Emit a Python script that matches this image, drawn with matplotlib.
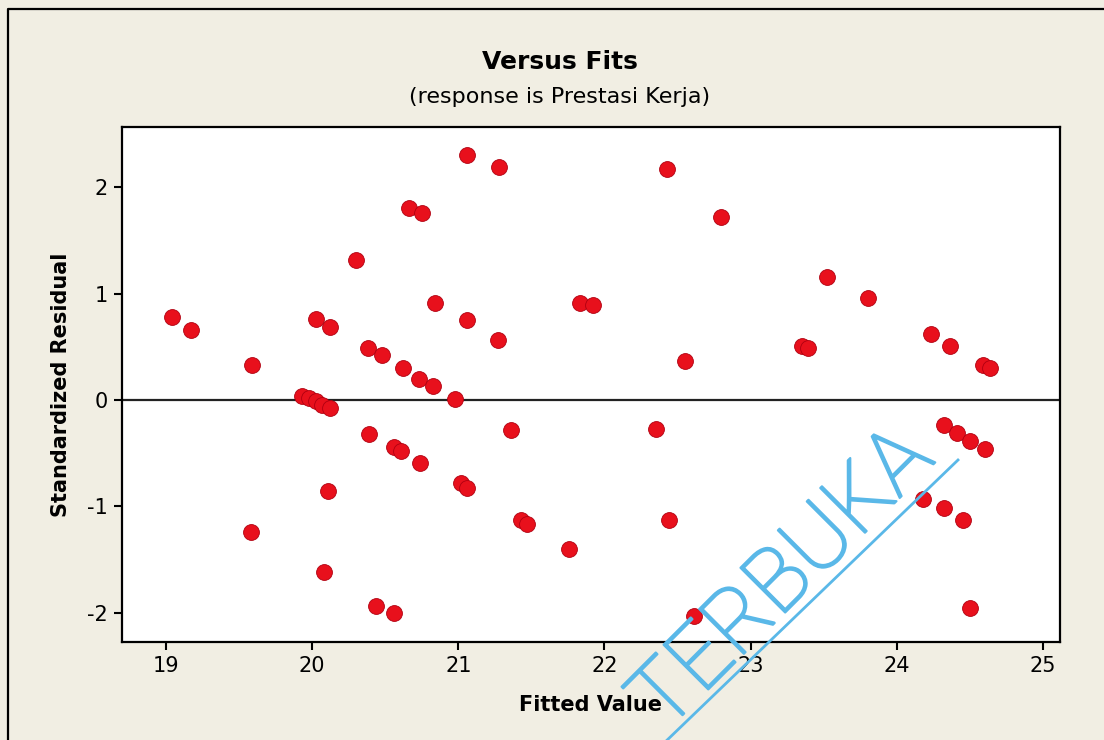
import numpy as np
import matplotlib
matplotlib.use("Agg")
import matplotlib.pyplot as plt
import matplotlib.patheffects as pe
from matplotlib.lines import Line2D

plt.rcParams['axes.unicode_minus'] = False

# fitted values and standardized residuals
fitted = [19.04, 19.17, 19.59, 19.93, 19.98, 20.03, 20.07, 20.12,
          20.03, 20.12, 20.30, 20.38, 20.48, 20.62, 20.73, 20.83, 20.98,
          20.66, 20.75, 20.84, 21.06, 21.06, 21.28, 21.27,
          20.39, 20.56, 20.61, 20.74, 20.11, 19.58, 20.08, 20.44, 20.56,
          21.02, 21.06, 21.36, 21.43, 21.47,
          22.43, 22.80, 21.83, 21.92, 22.55, 23.52, 23.80, 23.35, 23.39,
          24.23, 24.36, 24.59, 24.64,
          22.35, 22.44, 21.76, 22.61, 24.32, 24.41, 24.50, 24.60,
          24.18, 24.32, 24.45, 24.50]
resid = [0.78, 0.66, 0.33, 0.04, 0.02, -0.01, -0.05, -0.08,
         0.76, 0.69, 1.32, 0.49, 0.42, 0.30, 0.20, 0.13, 0.01,
         1.81, 1.76, 0.91, 2.30, 0.75, 2.19, 0.56,
         -0.32, -0.44, -0.48, -0.59, -0.86, -1.24, -1.62, -1.94, -2.00,
         -0.78, -0.83, -0.28, -1.13, -1.17,
         2.17, 1.72, 0.91, 0.89, 0.37, 1.16, 0.96, 0.51, 0.49,
         0.62, 0.51, 0.33, 0.30,
         -0.27, -1.13, -1.40, -2.03, -0.24, -0.31, -0.39, -0.46,
         -0.93, -1.02, -1.13, -1.96]
xticks = [19, 20, 21, 22, 23, 24, 25]
yticks = [-2, -1, 0, 1, 2]

bg = "#f1eee3"
fig = plt.figure(figsize=(11.04, 7.4), dpi=100, facecolor=bg)
ax = fig.add_axes([0.1105, 0.1324, 0.8496, 0.696])
ax.set_facecolor("white")

ax.axhline(0, color="#222222", lw=1.6, zorder=1)
ax.scatter(fitted, resid, s=130, c="#e8101c", edgecolors="#b00010",
           linewidths=0.6, zorder=3)

ax.set_xlim(18.70, 25.115)
ax.set_ylim(-2.277, 2.568)
ax.set_xticks(xticks)
ax.set_yticks(yticks)
ax.tick_params(direction="out", length=6, width=1.5, labelsize=15, pad=4)
for sp in ax.spines.values():
    sp.set_linewidth(1.6)

ax.set_xlabel("Fitted Value", fontsize=15, fontweight="bold", labelpad=14)
ax.set_ylabel("Standardized Residual", fontsize=15, fontweight="bold", labelpad=12)

fig.text(0.507, 1 - 62 / 740, "Versus Fits", ha="center", va="center",
         fontsize=18, fontweight="bold")
fig.text(0.507, 1 - 97 / 740, "(response is Prestasi Kerja)", ha="center",
         va="center", fontsize=16)

# frame round the graph window
fig.add_artist(Line2D([8 / 1104, 8 / 1104, 1.0], [0.0, 1 - 9 / 740, 1 - 9 / 740],
                      transform=fig.transFigure, color="black", lw=1.6))

# watermark
wm = "#5ab8e8"
fig.text(783 / 1104, 1 - 580 / 740, "TERBUKA", ha="center", va="center",
         rotation=45, fontsize=64, color=wm, fontweight="light",
         family="Roboto", zorder=10,
         path_effects=[pe.withStroke(linewidth=1.6, foreground=wm)])
fig.add_artist(Line2D([662 / 1104, 958 / 1104], [1 - 745 / 740, 1 - 460 / 740],
                      transform=fig.transFigure, color=wm, lw=2.0, zorder=10))

fig.savefig("out.png", dpi=100, facecolor=bg)
